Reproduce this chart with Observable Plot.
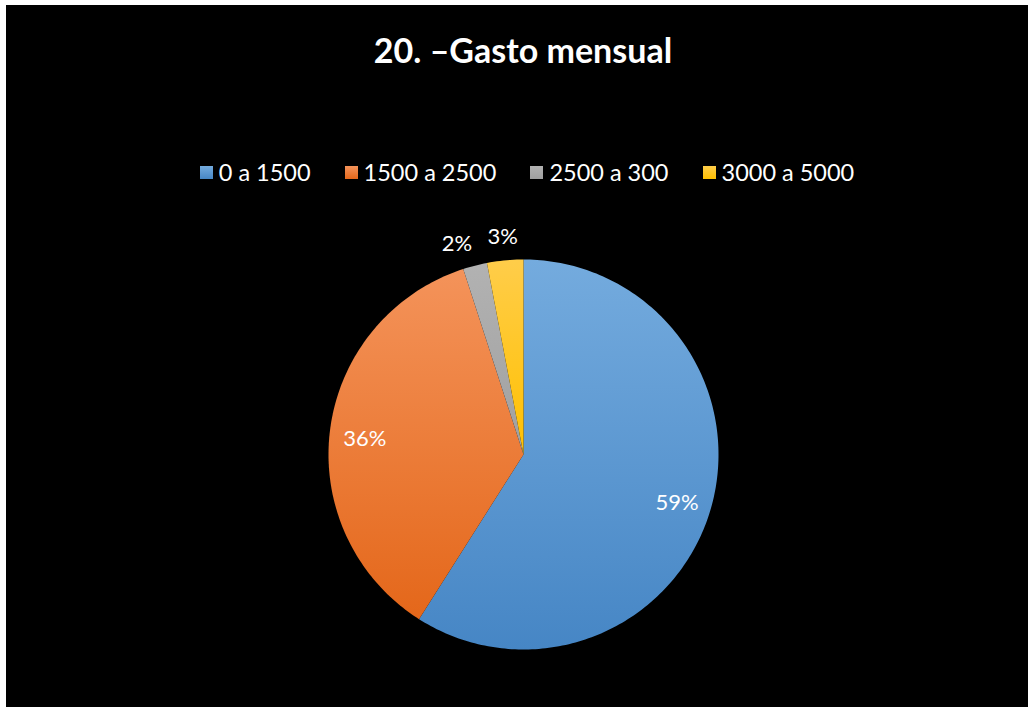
<!DOCTYPE html>
<html>
<head>
<meta charset="utf-8">
<script src="https://cdn.jsdelivr.net/npm/d3@7"></script>
<script src="https://cdn.jsdelivr.net/npm/@observablehq/plot@0.6"></script>
<style>
  html, body { margin: 0; padding: 0; background: #ffffff; }
  #frame { position: absolute; left: 6px; top: 5px; width: 1022px; height: 702px; background: #000; overflow: hidden; font-family: Lato, "Open Sans", sans-serif; }
  #title { position: absolute; left: 0; width: 1034px; top: 24px; text-align: center; color: #fff; font-weight: bold; font-size: 34px; }
  #legend { position: absolute; left: 0; width: 1042px; top: 153px; display: flex; justify-content: center; color: #fff; font-size: 23.5px; }
  .item { display: flex; align-items: center; margin: 0 17px; }
  .sw { width: 13px; height: 13px; margin-right: 6px; }
  #chart { position: absolute; left: 0; top: 195px; }
</style>
</head>
<body>
<div id="frame">
  <div id="title">20. –Gasto mensual</div>
  <div id="legend"></div>
  <div id="chart"></div>
</div>
<script>
// Data
const categories = ["0 a 1500", "1500 a 2500", "2500 a 300", "3000 a 5000"];
const shares = [59, 36, 2, 3];
const labels = ["59%", "36%", "2%", "3%"];
const colorsTop = ["#74abde", "#f4935a", "#b2b2b2", "#ffcd4a"];
const colorsBottom = ["#4686c5", "#e4671a", "#a0a0a0", "#ffc000"];

// Legend
const legend = document.getElementById("legend");
categories.forEach((c, i) => {
  const it = document.createElement("div");
  it.className = "item";
  const sw = document.createElement("div");
  sw.className = "sw";
  sw.style.background = `linear-gradient(${colorsTop[i]}, ${colorsBottom[i]})`;
  const t = document.createElement("span");
  t.textContent = c;
  it.appendChild(sw); it.appendChild(t);
  legend.appendChild(it);
});

// Pie geometry derived from data via d3.pie (angles clockwise from top)
const pie = d3.pie().sort(null).value(d => d)(shares);
const W = 1022, H = 505;
const R = 195, cx = 517, cy = 254; // layout (pixels within svg)
const polys = [];
const textRows = [];
pie.forEach((p, i) => {
  const n = Math.max(4, Math.ceil((p.endAngle - p.startAngle) / (2 * Math.PI) * 360));
  polys.push({key: i, x: 0, y: 0, g: `url(#grad${i})`});
  for (let k = 0; k <= n; k++) {
    const a = p.startAngle + (p.endAngle - p.startAngle) * k / n;
    polys.push({key: i, x: Math.sin(a), y: Math.cos(a), g: `url(#grad${i})`});
  }
  polys.push({key: i, x: 0, y: 0, g: `url(#grad${i})`});
  const mid = (p.startAngle + p.endAngle) / 2;
  const frac = (p.endAngle - p.startAngle) / (2 * Math.PI);
  const outside = frac < 0.05;
  const rr = outside ? 1.14 : 0.82;
  textRows.push({x: rr * Math.sin(mid), y: rr * Math.cos(mid), label: labels[i], anchor: outside && frac < 0.025 ? "end" : "middle"});
});

const plot = Plot.plot({
  width: W,
  height: H,
  margin: 0,
  style: {background: "transparent", color: "#fff"},
  x: {domain: [-cx / R, (W - cx) / R], axis: null},
  y: {domain: [-(H - cy) / R, cy / R], axis: null},
  color: {type: "identity"},
  marks: [
    Plot.line(polys, {x: "x", y: "y", z: "key", fill: "g", stroke: "none", curve: "linear"}),
    Plot.text(textRows.filter(d => d.anchor === "middle"), {x: "x", y: "y", text: "label", fill: "#fff", fontSize: 22, dy: 4, fontFamily: "Lato, 'Open Sans', sans-serif"}),
    Plot.text(textRows.filter(d => d.anchor === "end"), {x: "x", y: "y", text: "label", fill: "#fff", fontSize: 22, dy: 5, dx: 4, textAnchor: "end", fontFamily: "Lato, 'Open Sans', sans-serif"})
  ]
});

const defs = d3.select(plot).insert("defs", ":first-child");
categories.forEach((c, i) => {
  const g = defs.append("linearGradient").attr("id", `grad${i}`).attr("x1", 0).attr("y1", 0).attr("x2", 0).attr("y2", 1);
  g.append("stop").attr("offset", "0%").attr("stop-color", colorsTop[i]);
  g.append("stop").attr("offset", "100%").attr("stop-color", colorsBottom[i]);
});

document.getElementById("chart").appendChild(plot);
</script>
</body>
</html>
